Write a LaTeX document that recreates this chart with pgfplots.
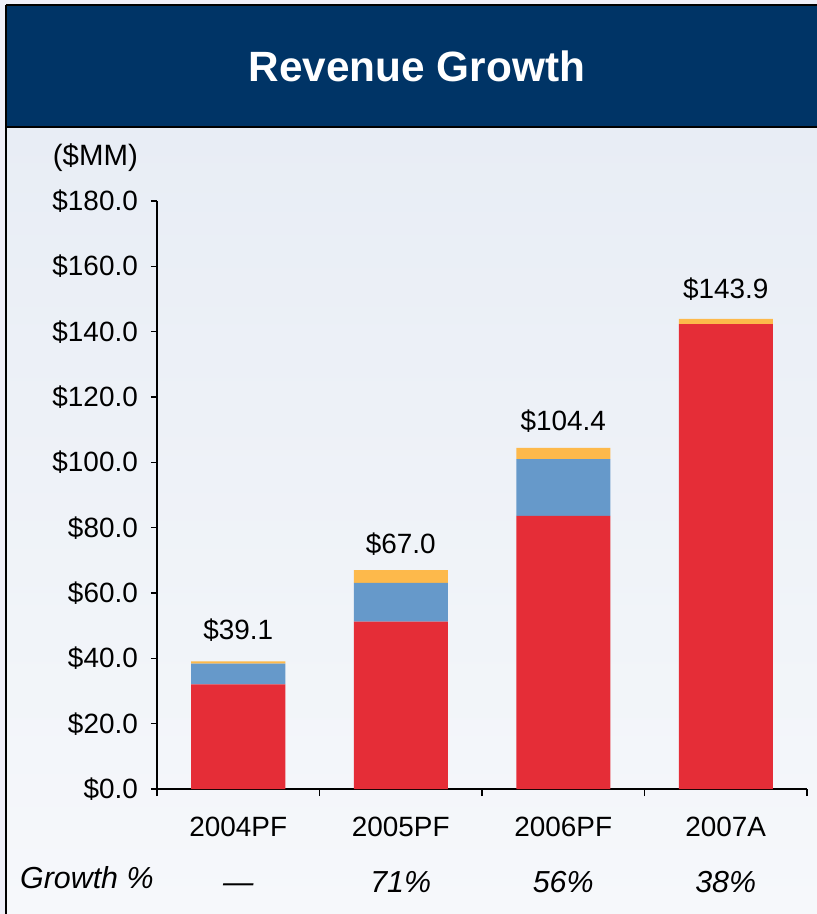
\documentclass[border=0pt]{standalone}
\usepackage{pgfplots}
\pgfplotsset{compat=1.18}
\usepackage{fontspec}
\setmainfont{Liberation Sans}
\definecolor{navy}{HTML}{003466}
\definecolor{barred}{HTML}{E52D37}
\definecolor{barblue}{HTML}{6699CA}
\definecolor{barorange}{HTML}{FDB94B}
\definecolor{bgtop}{HTML}{E8EDF5}
\definecolor{bgbot}{HTML}{F6F8FB}
\definecolor{outerbg}{HTML}{EFEFF8}
\pgfplotstableread{
x val
0 32.0
1 51.2
2 83.6
3 142.3
}\redtab
\pgfplotstableread{
x val
0 6.4
1 11.9
2 17.4
3 0
}\bluetab
\pgfplotstableread{
x val lbl
0 0.7 \$39.1
1 3.9 \$67.0
2 3.4 \$104.4
3 1.6 \$143.9
}\orangetab
\begin{document}
\begin{tikzpicture}[x=1bp,y=1bp]
\useasboundingbox (-157,-125) rectangle (660,789);
\fill[outerbg] (-157,-125) rectangle (660,789);
\shade[top color=bgtop, bottom color=bgbot] (-151,-125) rectangle (660,662);
\fill[navy] (-151,662) rectangle (660,784);
\draw[line width=2.5bp] (-151,784) -- (660,784);
\draw[line width=2.5bp] (-151,662) -- (660,662);
\draw[line width=2.5bp] (-151,-125) -- (-151,784);
\node[text=white, font=\bfseries\fontsize{42.5}{50}\selectfont, inner sep=0] at (260,723) {Revenue Growth};
\begin{axis}[
  at={(0,0)}, anchor=south west, scale only axis,
  width=650bp, height=588bp,
  xmin=-0.5, xmax=3.5, ymin=0, ymax=180,
  ybar stacked, bar width=94bp,
  axis x line*=bottom, axis y line*=left,
  axis line style={line width=1.5bp, -},
  tick align=outside,
  major tick length=6bp,
  minor tick length=7bp,
  ytick={0,20,...,180},
  yticklabels={\$0.0,\$20.0,\$40.0,\$60.0,\$80.0,\$100.0,\$120.0,\$140.0,\$160.0,\$180.0},
  ytick style={line width=1.5bp, black},
  yticklabel style={font=\fontsize{28}{32}\selectfont, inner sep=0, xshift=-13bp},
  xtick={0,1,2,3},
  xticklabels={2004PF,2005PF,2006PF,2007A},
  major x tick style={draw=none},
  minor xtick={-0.5,0.5,1.5,2.5,3.5},
  minor x tick style={line width=1.5bp, black},
  xticklabel style={font=\fontsize{28}{32}\selectfont, inner sep=0, yshift=-22bp},
  extra x ticks={0,1,2,3},
  extra x tick labels={—,71\%,56\%,38\%},
  extra x tick style={major x tick style={draw=none}, xticklabel style={font=\itshape\fontsize{30.5}{34}\selectfont, inner sep=0, text height=22bp, text depth=0pt, anchor=north, yshift=-53bp}},
  clip=false,
]
\addplot[fill=barred, draw=none] table[x=x, y=val] {\redtab};
\addplot[fill=barblue, draw=none] table[x=x, y=val] {\bluetab};
\addplot[fill=barorange, draw=none, nodes near coords, point meta=explicit symbolic,
  nodes near coords style={font=\fontsize{28}{32}\selectfont, inner sep=0, anchor=south, yshift=21bp, text=black}]
  table[x=x, y=val, meta=lbl] {\orangetab};
\end{axis}
\node[anchor=east, inner sep=0, font=\fontsize{29.5}{34}\selectfont] at (-19,631) {(\$MM)};
\node[anchor=west, inner sep=0, font=\itshape\fontsize{30.5}{34}\selectfont] at (-137,-89) {Growth \%};
\end{tikzpicture}
\end{document}
